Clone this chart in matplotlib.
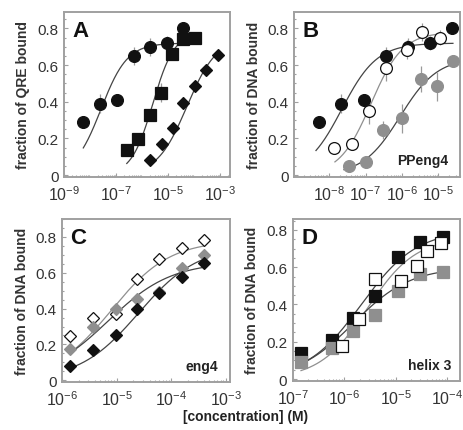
import numpy as np
import matplotlib
matplotlib.use("Agg")
import matplotlib.pyplot as plt
from matplotlib.ticker import LogLocator, FixedLocator, MultipleLocator, NullFormatter

plt.rcParams['font.family'] = ['Liberation Sans', 'DejaVu Sans']
plt.rcParams['mathtext.fontset'] = 'custom'
plt.rcParams['mathtext.rm'] = 'Liberation Sans'
plt.rcParams['mathtext.it'] = 'Liberation Sans'

GRAY = '#8f8f8f'
FRAME = '#a0a0a0'
TXT = '#333333'

# ---- data (log10 of molar concentration, fraction bound) ----
# panel A / B black circles
circA_x = [-8.26, -7.62, -6.97, -6.33, -5.69, -5.05, -4.43]
circB_x = [-8.27, -7.66, -7.05, -6.44, -5.83, -5.22, -4.63]
circ_y = [0.29, 0.39, 0.41, 0.65, 0.70, 0.72, 0.80]
circ_e = [0.0, 0.05, 0.0, 0.05, 0.05, 0.04, 0.03]
# panel A squares
sqA_x = [-6.59, -6.14, -5.69, -5.27, -4.86, -4.43, -3.96]
sqA_y = [0.135, 0.195, 0.33, 0.45, 0.66, 0.74, 0.75]
sqA_e = [0.0, 0.0, 0.03, 0.05, 0.03, 0.03, 0.0]
# panel A / C black diamonds
diaA_x = [-5.69, -5.24, -4.83, -4.43, -3.96, -3.55, -3.07]
dia_y = [0.08, 0.17, 0.255, 0.395, 0.485, 0.575, 0.655]
dia_e = [0.0, 0.02, 0.02, 0.03, 0.03, 0.02, 0.02]

# panel B
openB_x = [-7.87, -7.36, -6.91, -6.43, -5.86, -5.44, -4.96]
openB_y = [0.15, 0.17, 0.35, 0.585, 0.685, 0.78, 0.75]
openB_e = [0.0, 0.0, 0.07, 0.07, 0.05, 0.05, 0.04]
grayB_x = [-7.45, -7.00, -6.51, -6.00, -5.47, -5.05, -4.59]
grayB_y = [0.05, 0.07, 0.245, 0.31, 0.525, 0.485, 0.62]
grayB_e = [0.0, 0.0, 0.05, 0.08, 0.07, 0.08, 0.0]

# panel C
conc_C = [-5.85, -5.43, -5.02, -4.62, -4.22, -3.80, -3.40]
openC_y = [0.245, 0.345, 0.37, 0.566, 0.674, 0.738, 0.78]
grayC_y = [0.177, 0.296, 0.396, 0.456, 0.49, 0.628, 0.70]

# panel D
conc_D = [-6.84, -6.23, -5.83, -5.40, -4.95, -4.53, -4.08]
blackD_y = [0.142, 0.208, 0.327, 0.445, 0.653, 0.733, 0.76]
openD_x = [-6.04, -5.72, -5.40, -4.90, -4.58, -4.40, -4.12]
openD_y = [0.178, 0.324, 0.537, 0.528, 0.608, 0.688, 0.729]
grayD_y = [0.093, 0.164, 0.256, 0.341, 0.475, 0.564, 0.573]

# fitted binding curves: (ymax, log10 K, hill n, log range, colour)
fits = {
    'A': [(0.72, -7.58, 0.86, (-8.26, -4.1), '#444444'),
          (0.78, -5.59, 1.05, (-6.59, -4.3), '#444444'),
          (0.75, -4.28, 0.76, (-5.69, -3.07), '#444444')],
    'B': [(0.72, -7.65, 0.9, (-8.36, -4.6), '#444444'),
          (0.78, -6.85, 1.0, (-7.84, -4.9), GRAY),
          (0.64, -6.05, 0.85, (-7.59, -4.58), '#444444')],
    'C': [(0.78, -5.10, 0.81, (-5.87, -3.40), GRAY),
          (0.66, -5.16, 0.75, (-5.87, -3.40), '#444444'),
          (0.75, -4.60, 0.8, (-5.85, -3.40), '#444444')],
    'D': [(0.80, -5.67, 0.81, (-6.84, -4.08), '#444444'),
          (0.76, -5.55, 0.93, (-6.84, -4.08), GRAY),
          (0.60, -5.82, 0.79, (-6.84, -4.12), '#444444')],
}


def hill(lx, ymax, lk, n):
    return ymax / (1 + 10 ** (n * (lk - lx)))


fig = plt.figure(figsize=(4.64, 4.31), dpi=100)
axA = fig.add_axes([0.138, 0.587, 0.358, 0.383])
axB = fig.add_axes([0.634, 0.587, 0.358, 0.383])
axC = fig.add_axes([0.134, 0.111, 0.362, 0.379])
axD = fig.add_axes([0.631, 0.114, 0.360, 0.376])


def style(ax, xlim, ylim, majors, ylabel, letter):
    ax.set_xscale('log')
    ax.set_xlim(*xlim)
    ax.set_ylim(*ylim)
    ax.xaxis.set_major_locator(FixedLocator(majors))
    ax.set_xticklabels([r'$10^{%d}$' % round(np.log10(m)) for m in majors])
    ax.xaxis.set_minor_locator(LogLocator(base=10, subs=np.arange(2, 10), numticks=20))
    ax.xaxis.set_minor_formatter(NullFormatter())
    ax.yaxis.set_major_locator(FixedLocator([0, 0.2, 0.4, 0.6, 0.8]))
    ax.set_yticklabels(['0', '0.2', '0.4', '0.6', '0.8'])
    ax.yaxis.set_minor_locator(MultipleLocator(0.05))
    ax.tick_params(which='both', direction='in', colors=FRAME, labelcolor=TXT,
                   width=0.8)
    ax.tick_params(axis='y', labelsize=11, pad=4)
    ax.tick_params(axis='x', labelsize=11.5, pad=5)
    ax.tick_params(which='major', length=3)
    ax.tick_params(which='minor', length=1.5)
    for s in ax.spines.values():
        s.set_color(FRAME)
        s.set_linewidth(1.4)
    ax.set_ylabel(ylabel, fontsize=10, fontweight='bold', color=TXT, labelpad=5)
    ax.text(0.05, 0.95, letter, transform=ax.transAxes, fontsize=16,
            fontweight='bold', va='top', ha='left', color='#111111')


def curves(ax, key):
    for ymax, lk, n, (a, b), c in fits[key]:
        lx = np.linspace(a, b, 200)
        ax.plot(10 ** lx, hill(lx, ymax, lk, n), color=c, lw=0.9, zorder=2)


def pts(ax, lx, y, marker, fc, ms, err=None, ec='#111111'):
    x = 10 ** np.array(lx)
    if err is not None:
        ax.errorbar(x, y, yerr=err, fmt='none', ecolor='#999999', elinewidth=0.9,
                    zorder=3)
    ax.plot(x, y, linestyle='none', marker=marker, ms=ms, mfc=fc, mec=ec,
            mew=0.9, zorder=4)


# panel A
curves(axA, 'A')
pts(axA, circA_x, circ_y, 'o', '#111111', 8.5, circ_e)
pts(axA, sqA_x, sqA_y, 's', '#111111', 8.5, sqA_e)
pts(axA, diaA_x, dia_y, 'D', '#111111', 6.5, dia_e)
style(axA, (1e-9, 2.4e-3), (-0.01, 0.89), [1e-9, 1e-7, 1e-5, 1e-3],
      'fraction of QRE bound', 'A')

# panel B
curves(axB, 'B')
pts(axB, circB_x, circ_y, 'o', '#111111', 8.5, circ_e)
pts(axB, openB_x, openB_y, 'o', 'white', 8.5, openB_e)
pts(axB, grayB_x, grayB_y, 'o', GRAY, 8.5, grayB_e, ec=GRAY)
style(axB, (1.1e-9, 4e-5), (-0.01, 0.89), [1e-9, 1e-8, 1e-7, 1e-6, 1e-5],
      'fraction of DNA bound', 'B')
axB.text(0.93, 0.1, 'PPeng4', transform=axB.transAxes, fontsize=10,
         fontweight='bold', ha='right', va='center', color='#222222')

# panel C
curves(axC, 'C')
pts(axC, conc_C, openC_y, 'D', 'white', 6.5)
pts(axC, conc_C, grayC_y, 'D', GRAY, 6.5, ec=GRAY)
pts(axC, conc_C, dia_y, 'D', '#111111', 6.5)
style(axC, (1e-6, 1.2e-3), (-0.01, 0.9), [1e-6, 1e-5, 1e-4, 1e-3],
      'fraction of DNA bound', 'C')
axC.text(0.93, 0.1, 'eng4', transform=axC.transAxes, fontsize=10,
         fontweight='bold', ha='right', va='center', color='#222222')

# panel D
curves(axD, 'D')
pts(axD, conc_D, blackD_y, 's', '#111111', 8.5)
pts(axD, conc_D, grayD_y, 's', GRAY, 8.5, ec=GRAY)
pts(axD, openD_x, openD_y, 's', 'white', 8.5)
style(axD, (1e-7, 1.75e-4), (-0.01, 0.86), [1e-7, 1e-6, 1e-5, 1e-4],
      'fraction of DNA bound', 'D')
axD.text(0.95, 0.1, 'helix 3', transform=axD.transAxes, fontsize=10,
         fontweight='bold', ha='right', va='center', color='#222222')

fig.text(0.53, 0.033, '[concentration] (M)', fontsize=10, fontweight='bold',
         ha='center', va='center', color='#222222')

fig.savefig('out.png', dpi=100)
